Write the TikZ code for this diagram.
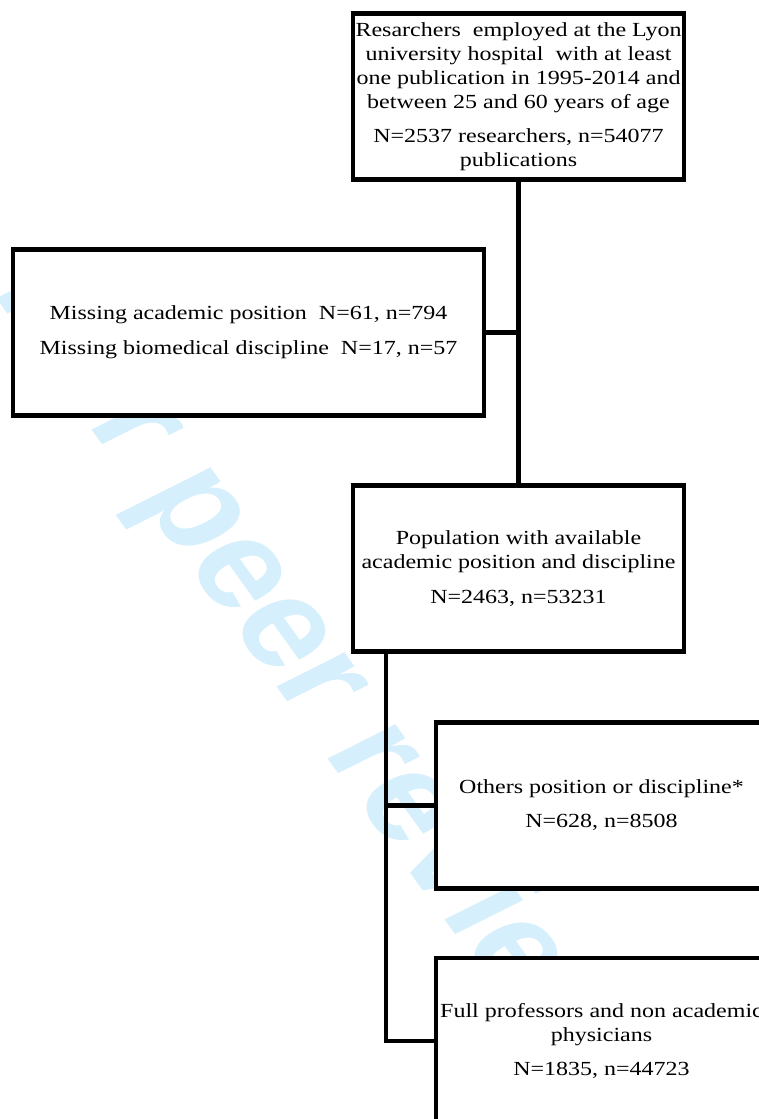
\documentclass[tikz,border=0pt]{standalone}
\usepackage{fontspec}
\setmainfont{Liberation Serif}[FakeStretch=1.2]
\newfontfamily\wmfont{Liberation Sans}
\definecolor{wmblue}{RGB}{213,239,252}

\tikzset{every picture/.style={line width=3.4pt}}
\tikzset{flowbox/.style={draw, fill=white, line width=3.4pt, inner sep=0pt, outer sep=0pt,
  minimum width=248.25pt, minimum height=124.5pt, align=center,
  font=\fontsize{15pt}{18pt}\selectfont}}

\begin{document}
\begin{tikzpicture}[x=0.75pt,y=0.75pt,yscale=-1,xscale=1]
\useasboundingbox (0,0) rectangle (759,1119);
\clip (0,0) rectangle (759,1119);

% Watermark
\node [text=wmblue, inner sep=0pt] (wm) at (311,672) {\scalebox{1.2}[1]{\rotatebox{-59}{\wmfont\bfseries\fontsize{94pt}{94pt}\selectfont For peer review}}};

% Text Node
\node [flowbox] (start) at (518.5,96.75) {Resarchers~ employed at the Lyon\\ university hospital~ with at least\\ one publication in 1995-2014 and\\ between 25 and 60 years of age\\[8pt] N=2537 researchers, n=54077\\ publications};
% Text Node
\node [flowbox, minimum width=353.25pt] (missing) at (248.5,332.25) {Missing academic position~ N=61, n=794\\[8pt] Missing biomedical discipline~ N=17, n=57};
% Text Node
\node [flowbox] (avail) at (518.5,568.5) {Population with available\\ academic position and discipline\\[8pt] N=2463, n=53231};
% Text Node
\node [flowbox] (others) at (601.5,805.25) {Others position or discipline*\\[8pt] N=628, n=8508};
% Text Node
\node [flowbox] (fullprof) at (601.5,1041) {Full professors and non academic\\ physicians\\[8pt] N=1835, n=44723};

%Straight Lines
\draw (start) -- (avail);
%Straight Lines
\draw (missing.east) -- (missing.east -| start.south);
%Straight Lines
\coordinate (split) at ([xshift=24.75pt]avail.south west);
\draw (split) |- (fullprof.west);
%Straight Lines
\draw (split |- others.west) -- (others.west);

\end{tikzpicture}
\end{document}
